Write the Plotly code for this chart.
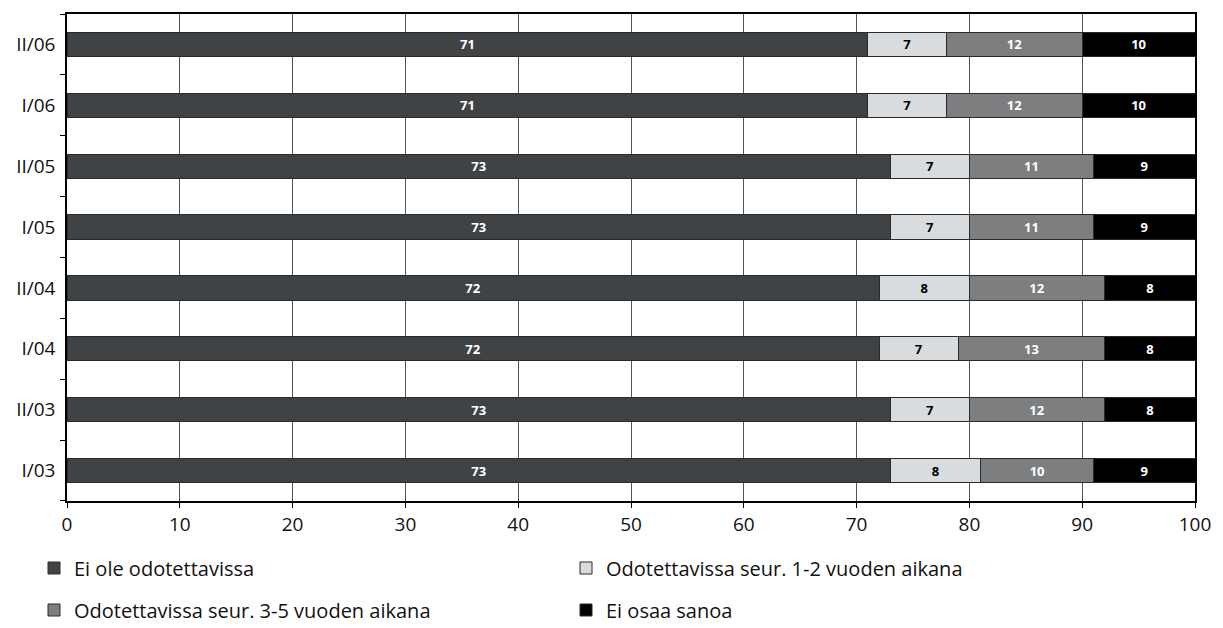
import plotly.graph_objects as go

# survey rounds, bottom to top
periods = ["I/03", "II/03", "I/04", "II/04", "I/05", "II/05", "I/06", "II/06"]

ei_ole = [73, 73, 72, 72, 73, 73, 71, 71]
seur_1_2 = [8, 7, 7, 8, 7, 7, 7, 7]
seur_3_5 = [10, 12, 13, 12, 11, 11, 12, 12]
ei_osaa = [9, 8, 8, 8, 9, 9, 10, 10]

series_names = [
    "Ei ole odotettavissa",
    "Odotettavissa seur. 1-2 vuoden aikana",
    "Odotettavissa seur. 3-5 vuoden aikana",
    "Ei osaa sanoa",
]
x_ticks = [0, 10, 20, 30, 40, 50, 60, 70, 80, 90, 100]

FONT = "'Open Sans', Lato, sans-serif"
fills = ["#404346", "#d9dcdf", "#7c7e80", "#000000"]
text_colors = ["white", "black", "white", "white"]
legend_ids = ["legend", "legend2", "legend3", "legend4"]

fig = go.Figure()
for vals, name, fill, tc, lg in zip(
    [ei_ole, seur_1_2, seur_3_5, ei_osaa], series_names, fills, text_colors, legend_ids
):
    fig.add_trace(go.Bar(
        x=vals,
        y=periods,
        name=name,
        orientation="h",
        marker=dict(color=fill, line=dict(color="#2a2a2a", width=1)),
        text=[str(v) for v in vals],
        textposition="inside",
        insidetextanchor="middle",
        textangle=0,
        textfont=dict(family=FONT, size=13, color=tc, weight="bold"),
        legend=lg,
        showlegend=True,
        hoverinfo="x+y+name",
    ))

leg_common = dict(
    orientation="h",
    xref="container",
    yref="container",
    xanchor="left",
    yanchor="middle",
    font=dict(family=FONT, size=20, color="#111"),
    bgcolor="rgba(0,0,0,0)",
)
W, H = 1223, 628
leg_pos = [(34, 568), (566, 568), (34, 610), (566, 610)]
legends = {}
for lg, (px, py) in zip(legend_ids, leg_pos):
    legends[lg] = dict(leg_common, x=px / W, y=1 - py / H)

fig.update_layout(
    barmode="stack",
    bargap=0.6,
    width=W,
    height=H,
    margin=dict(l=67, r=26, t=13, b=126),
    plot_bgcolor="white",
    paper_bgcolor="white",
    font=dict(family=FONT, size=18, color="#111"),
    showlegend=True,
    uniformtext=dict(mode="show", minsize=13),
    **legends,
)

fig.update_xaxes(
    range=[0, 100],
    tickvals=x_ticks,
    ticktext=[str(t) for t in x_ticks],
    showgrid=True,
    gridcolor="#555555",
    gridwidth=1,
    showline=True,
    linecolor="black",
    linewidth=1.5,
    mirror=True,
    ticks="outside",
    ticklen=5,
    tickcolor="black",
    zeroline=False,
    tickfont=dict(size=19),
)
fig.update_yaxes(
    type="category",
    categoryorder="array",
    categoryarray=periods,
    tickson="boundaries",
    ticks="outside",
    ticklen=5,
    tickcolor="black",
    ticklabelstandoff=6,
    showgrid=False,
    showline=True,
    linecolor="black",
    linewidth=1.5,
    mirror=True,
    tickfont=dict(size=19),
)

fig.write_html(
    "out.html",
    config={"displayModeBar": False},
    post_script="document.body.style.margin='0';",
)
